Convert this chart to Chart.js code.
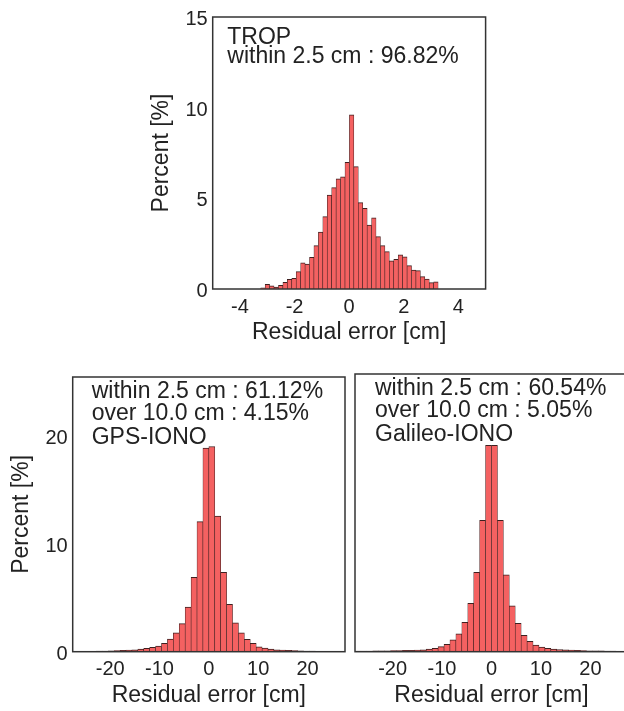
<!DOCTYPE html>
<html>
<head>
<meta charset="utf-8">
<script src="https://cdn.jsdelivr.net/npm/chart.js@4.4.1/dist/chart.umd.min.js"></script>
<style>
  html, body { margin: 0; padding: 0; background: #fff; }
  #wrap { position: relative; width: 624px; height: 711px; overflow: hidden; }
  canvas { position: absolute; }
</style>
</head>
<body>
<div id="wrap">
  <canvas id="trop" width="375" height="355" style="left:130px;top:0px"></canvas>
  <canvas id="gps" width="350" height="351" style="left:0px;top:360px"></canvas>
  <canvas id="gal" width="300" height="351" style="left:340px;top:360px"></canvas>
</div>
<script>
// bin centres [cm]
const tropBins = [
  -3.159, -2.996, -2.834, -2.671, -2.509, -2.346, -2.184, -2.021, -1.859, -1.696,
  -1.534, -1.371, -1.209, -1.046, -0.884, -0.721, -0.559, -0.396, -0.234, -0.071,
  0.091, 0.254, 0.416, 0.579, 0.741, 0.904, 1.066, 1.229, 1.391, 1.554,
  1.716, 1.879, 2.041, 2.204, 2.366, 2.529, 2.691, 2.854, 3.016, 3.179
]
const ionoBins = [
  -27.0, -25.8, -24.6, -23.4, -22.2, -21.0, -19.8, -18.6, -17.4, -16.2, -15.0, -13.8,
  -12.6, -11.4, -10.2, -9.0, -7.8, -6.6, -5.4, -4.2, -3.0, -1.8, -0.6,
  0.6, 1.8, 3.0, 4.2, 5.4, 6.6, 7.8, 9.0, 10.2, 11.4, 12.6, 13.8, 15.0,
  16.2, 17.4, 18.6, 19.8, 21.0, 22.2, 23.4, 24.6, 25.8, 27.0
]

// percent per bin
const tropPct = [
  0.07, 0.26, 0.17, 0.11, 0.20, 0.37, 0.53, 0.59, 0.96, 1.45,
  1.38, 1.75, 2.39, 3.14, 3.99, 5.18, 5.59, 6.07, 6.18, 6.99,
  9.60, 6.75, 4.76, 4.45, 3.53, 3.93, 2.89, 2.39, 2.06, 1.56,
  1.64, 1.88, 1.78, 1.29, 1.05, 1.01, 0.68, 0.55, 0.35, 0.40
]
const gpsPct = [
  0.02, 0.03, 0.03, 0.04, 0.05, 0.06, 0.08, 0.10, 0.12, 0.15, 0.18, 0.25,
  0.31, 0.40, 0.52, 0.77, 1.17, 1.75, 2.61, 4.15, 6.91, 12.07, 18.90,
  19.05, 12.60, 7.37, 4.39, 2.67, 1.75, 1.14, 0.77, 0.46, 0.34, 0.25, 0.18, 0.15,
  0.12, 0.10, 0.08, 0.06, 0.05, 0.04, 0.03, 0.03, 0.02, 0.02
]
const galPct = [
  0.05, 0.05, 0.06, 0.07, 0.08, 0.09, 0.10, 0.11, 0.12, 0.13, 0.15, 0.18,
  0.25, 0.31, 0.46, 0.68, 1.08, 1.63, 2.70, 4.45, 7.28, 12.07, 18.96,
  18.96, 12.07, 7.07, 4.21, 2.61, 1.50, 0.95, 0.61, 0.43, 0.31, 0.25, 0.20, 0.17,
  0.14, 0.12, 0.10, 0.09, 0.08, 0.07, 0.06, 0.05, 0.04, 0.04
]

// tick labels
const tropXTicks = [-4, -2, 0, 2, 4]
const tropYTicks = [0, 5, 10, 15]
const ionoXTicks = [-20, -10, 0, 10, 20]
const ionoYTicks = [0, 10, 20]

// text in the boxes
const tropNotes = ["TROP", "within 2.5 cm : 96.82%"]
const gpsNotes = ["within 2.5 cm : 61.12%", "over 10.0 cm : 4.15%", "GPS-IONO"]
const galNotes = ["within 2.5 cm : 60.54%", "over 10.0 cm : 5.05%", "Galileo-IONO"]

const FAMILY = '"Liberation Sans", Arial, Helvetica, sans-serif'
const TEXT = "#222"

// frame round the plot area plus the notes in the upper left
const boxAndNotes = {
  id: "boxAndNotes",
  afterDraw(chart, args, opts) {
    const { ctx, chartArea: a } = chart
    ctx.save()
    ctx.strokeStyle = "#333"
    ctx.lineWidth = 1.5
    ctx.strokeRect(a.left, a.top, a.right - a.left, a.bottom - a.top)
    ctx.fillStyle = TEXT
    ctx.font = "23px " + FAMILY
    ctx.textBaseline = "alphabetic"
    ctx.textAlign = "left"
    opts.lines.forEach((t, i) => ctx.fillText(t, a.left + opts.dx, a.top + opts.dy[i]))
    ctx.restore()
  },
}

function histogram(id, bins, pct, cfg) {
  const ctx = document.getElementById(id).getContext("2d")
  return new Chart(ctx, {
    type: "bar",
    data: {
      datasets: [
        {
          data: bins.map((b, i) => ({ x: b, y: pct[i] })),
          backgroundColor: "#f46161",
          borderColor: "#3e2020",
          borderWidth: { top: 1, left: 0.6, right: 0.6, bottom: 0 },
          barPercentage: 1,
          categoryPercentage: 1,
        },
      ],
    },
    options: {
      responsive: false,
      animation: false,
      layout: { padding: cfg.padding },
      plugins: {
        legend: { display: false },
        tooltip: { enabled: false },
        boxAndNotes: { lines: cfg.notes, dx: cfg.noteDx, dy: cfg.noteDy },
      },
      scales: {
        x: {
          type: "linear",
          min: cfg.xMin,
          max: cfg.xMax,
          offset: false,
          afterBuildTicks: (s) => { s.ticks = cfg.xTicks.map((v) => ({ value: v })) },
          afterFit: (s) => { s.height = cfg.xHeight },
          grid: { display: false, drawTicks: false },
          border: { display: false },
          ticks: { autoSkip: false, maxRotation: 0, padding: cfg.xTickPad, color: TEXT, font: { family: FAMILY, size: 20 } },
          title: {
            display: true,
            text: "Residual error [cm]",
            color: TEXT,
            font: { family: FAMILY, size: 23 },
            padding: { top: 0, bottom: cfg.xTitlePad },
          },
        },
        y: {
          display: cfg.showY,
          min: 0,
          max: cfg.yMax,
          afterBuildTicks: (s) => { s.ticks = cfg.yTicks.map((v) => ({ value: v })) },
          afterFit: (s) => { s.width = cfg.yWidth },
          grid: { display: false, drawTicks: false },
          border: { display: false },
          ticks: { padding: 5, labelOffset: 2.5, color: TEXT, font: { family: FAMILY, size: 20 } },
          title: {
            display: true,
            text: "Percent [%]",
            color: TEXT,
            font: { family: FAMILY, size: 23 },
            padding: { top: cfg.yTitlePad, bottom: 0 },
          },
        },
      },
    },
    plugins: [boxAndNotes],
  })
}

histogram("trop", tropBins, tropPct, {
  padding: { top: 17, right: 19.4, left: 0, bottom: 0 },
  xMin: -5, xMax: 5, xTicks: tropXTicks, xHeight: 66, xTickPad: 6.5, xTitlePad: 8.2,
  yMax: 15, yTicks: tropYTicks, yWidth: 82.7, yTitlePad: 17.9, showY: true,
  notes: tropNotes, noteDx: 14.6, noteDy: [27.3, 46.3],
})

histogram("gps", ionoBins, gpsPct, {
  padding: { top: 14, right: 5, left: 0, bottom: 0 },
  xMin: -27.6, xMax: 27.6, xTicks: ionoXTicks, xHeight: 59.3, xTickPad: 5.3, xTitlePad: 1.2,
  yMax: 25.5, yTicks: ionoYTicks, yWidth: 72.7, yTitlePad: 7.9, showY: true,
  notes: gpsNotes, noteDx: 19, noteDy: [21, 43, 66.7],
})

histogram("gal", ionoBins, galPct, {
  padding: { top: 14, right: 12, left: 15, bottom: 0 },
  xMin: -27.6, xMax: 27.6, xTicks: ionoXTicks, xHeight: 59.3, xTickPad: 5.3, xTitlePad: 1.2,
  yMax: 25.5, yTicks: ionoYTicks, yWidth: 0, yTitlePad: 0, showY: false,
  notes: galNotes, noteDx: 20, noteDy: [21, 43, 66.7],
})
</script>
</body>
</html>
